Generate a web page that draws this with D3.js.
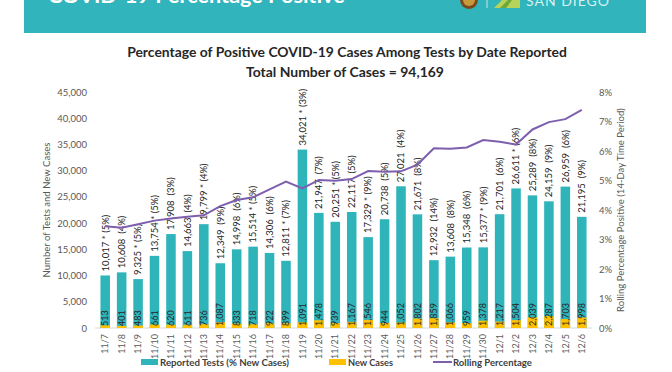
<!DOCTYPE html>
<html>
<head>
<meta charset="utf-8">
<script src="https://cdn.jsdelivr.net/npm/d3@7.9.0/dist/d3.min.js"></script>
<style>
  body { margin: 0; background: #fff; }
  svg { font-family: Lato, "Open Sans", sans-serif; display: block; }
  .pre { white-space: pre; }
</style>
</head>
<body>
<svg id="chart" width="672" height="372"></svg>
<script>
// Reported dates, 11/7 -> 12/6
const dates = ['11/7','11/8','11/9','11/10','11/11','11/12','11/13','11/14','11/15','11/16',
  '11/17','11/18','11/19','11/20','11/21','11/22','11/23','11/24','11/25','11/26',
  '11/27','11/28','11/29','11/30','12/1','12/2','12/3','12/4','12/5','12/6'];

// reported tests per day
const tests = [10017, 10608, 9325, 13754, 17908, 14663, 19799, 12349, 14998, 15514,
  14306, 12811, 34021, 21947, 20251, 22117, 17329, 20738, 27021, 21671,
  12932, 13608, 15348, 15377, 21701, 26611, 25289, 24159, 26959, 21195];

// which test counts carry the "*" mark
const starred = [1, 0, 1, 1, 0, 0, 1, 0, 0, 1,
  0, 1, 1, 0, 1, 0, 1, 0, 0, 0,
  0, 0, 0, 1, 0, 1, 0, 0, 0, 0];

// % new cases shown in brackets
const pctNew = [5, 4, 5, 5, 3, 4, 4, 9, 6, 5,
  6, 7, 3, 7, 5, 5, 9, 5, 4, 8,
  14, 8, 6, 9, 6, 6, 8, 9, 6, 9];

// new cases per day
const newCases = [513, 401, 483, 661, 620, 611, 736, 1087, 833, 718,
  922, 899, 1091, 1478, 939, 1167, 1546, 944, 1052, 1802,
  1859, 1066, 959, 1378, 1217, 1504, 2039, 2287, 1703, 1998];

// rolling 14-day percentage positive
const rolling = [3.45, 3.40, 3.52, 3.64, 3.71, 3.77, 3.82, 4.13, 4.34, 4.43,
  4.70, 4.96, 4.73, 5.02, 4.99, 5.05, 5.32, 5.30, 5.31, 5.54,
  6.09, 6.08, 6.12, 6.37, 6.31, 6.22, 6.73, 6.98, 7.08, 7.39];

const leftTicks = [0, 5000, 10000, 15000, 20000, 25000, 30000, 35000, 40000, 45000];
const rightTicks = [0, 1, 2, 3, 4, 5, 6, 7, 8];

const teal = '#2fb4ba';
const gold = '#ffc000';
const purple = '#7d5fae';

const svg = d3.select('#chart');

// shrink/grow a text so it spans a target width
function fit(sel, w) {
  const node = sel.node();
  const fs = parseFloat(sel.attr('font-size'));
  const len = node.getComputedTextLength();
  if (len > 0) sel.attr('font-size', (fs * w / len).toFixed(2));
  return sel;
}

// ---- header banner (top of it is cropped in the source image)
svg.append('rect').attr('x', 24).attr('y', 0).attr('width', 622).attr('height', 33).attr('fill', '#31b4bb');
fit(svg.append('text').attr('x', 48).attr('y', 3)
  .attr('font-size', 24).attr('font-weight', 700).attr('fill', '#fff')
  .text('COVID-19 Percentage Positive'), 297);
// seal
svg.append('circle').attr('cx', 469).attr('cy', 0).attr('r', 9).attr('fill', '#7a4a1c');
svg.append('circle').attr('cx', 469).attr('cy', 0).attr('r', 6).attr('fill', '#c99a3c');
svg.append('line').attr('x1', 487).attr('x2', 487).attr('y1', 0).attr('y2', 8).attr('stroke', '#bfe6e8');
// county logo
svg.append('path').attr('d', 'M494,8 L502,0 L520,0 L520,8 Z').attr('fill', '#b6d35a');
svg.append('path').attr('d', 'M500,8 L508,0 L512,0 L506,8 Z').attr('fill', '#6fa83a');
fit(svg.append('text').attr('x', 526).attr('y', 6)
  .attr('font-size', 16).attr('fill', '#d8f1f2').attr('letter-spacing', 1)
  .text('SAN DIEGO'), 83);

// ---- titles
fit(svg.append('text').attr('x', 347).attr('y', 57).attr('text-anchor', 'middle')
  .attr('font-size', 14).attr('font-weight', 700).attr('fill', '#262626')
  .text('Percentage of Positive COVID-19 Cases Among Tests by Date Reported'), 440);
fit(svg.append('text').attr('x', 345).attr('y', 77).attr('text-anchor', 'middle')
  .attr('font-size', 14).attr('font-weight', 700).attr('fill', '#262626')
  .text('Total Number of Cases = 94,169'), 198);

// ---- scales
const x = d3.scaleBand().domain(dates).range([97, 590]).paddingInner(0.42).paddingOuter(0.21);
const y = d3.scaleLinear().domain([0, 45000]).range([328, 92]);
const y2 = d3.scaleLinear().domain([0, 8]).range([328, 92]);
const cx = d => x(d) + x.bandwidth() / 2;

// ---- axes
const gy = svg.append('g').attr('transform', 'translate(92,0)')
  .call(d3.axisLeft(y).tickValues(leftTicks).tickFormat(d3.format(',')).tickSize(0).tickPadding(5));
gy.select('.domain').remove();
gy.selectAll('text').attr('font-size', 9.5).attr('fill', '#595959').attr('font-family', 'Lato');

const gy2 = svg.append('g').attr('transform', 'translate(594,0)')
  .call(d3.axisRight(y2).tickValues(rightTicks).tickFormat(d => d + '%').tickSize(0).tickPadding(5));
gy2.select('.domain').remove();
gy2.selectAll('text').attr('font-size', 9.5).attr('fill', '#595959').attr('font-family', 'Lato');

const gx = svg.append('g').attr('transform', 'translate(0,328)')
  .call(d3.axisBottom(x).tickSize(0));
gx.select('.domain').attr('stroke', '#d9d9d9').attr('d', 'M95,0H592');
gx.selectAll('text')
  .attr('font-size', 9).attr('fill', '#595959').attr('font-family', 'Lato')
  .attr('transform', 'rotate(-90)').attr('text-anchor', 'end')
  .attr('x', -6).attr('y', 0).attr('dy', '0.35em');

// axis titles
fit(svg.append('text').attr('transform', 'translate(50,210) rotate(-90)').attr('text-anchor', 'middle')
  .attr('font-size', 10).attr('fill', '#595959')
  .text('Number of Tests and New Cases'), 135);
fit(svg.append('text').attr('transform', 'translate(624,210) rotate(-90)').attr('text-anchor', 'middle')
  .attr('font-size', 10).attr('fill', '#595959')
  .text('Rolling Percentage Positive (14-Day Time Period)'), 204);

// ---- bars
const rows = dates.map((d, i) => ({ date: d, tests: tests[i], star: starred[i], pct: pctNew[i], cases: newCases[i] }));

svg.append('g').selectAll('rect').data(rows).join('rect')
  .attr('x', d => x(d.date)).attr('width', x.bandwidth())
  .attr('y', d => y(d.tests)).attr('height', d => y(0) - y(d.tests))
  .attr('fill', teal);

svg.append('g').selectAll('rect').data(rows).join('rect')
  .attr('x', d => x(d.date)).attr('width', x.bandwidth())
  .attr('y', d => y(d.cases)).attr('height', d => y(0) - y(d.cases))
  .attr('fill', gold);

// test labels above bars
svg.append('g').selectAll('text').data(rows).join('text')
  .attr('class', 'pre')
  .attr('transform', d => `translate(${cx(d.date)},${y(d.tests) - 4}) rotate(-90)`)
  .attr('dy', '0.35em').attr('font-size', 9.5).attr('fill', '#262626')
  .text(d => d3.format(',')(d.tests) + (d.star ? ' * ' : '  ') + '(' + d.pct + '%)');

// new case labels inside bars
svg.append('g').selectAll('text').data(rows).join('text')
  .attr('transform', d => `translate(${cx(d.date)},326) rotate(-90)`)
  .attr('dy', '0.35em').attr('font-size', 9).attr('fill', '#262626')
  .text(d => d3.format(',')(d.cases));

// ---- rolling line
svg.append('path')
  .datum(rolling)
  .attr('fill', 'none').attr('stroke', purple).attr('stroke-width', 2)
  .attr('d', d3.line().x((d, i) => cx(dates[i])).y(d => y2(d)));

// ---- legend
const lg = svg.append('g').attr('font-weight', 700).attr('fill', '#404040');
lg.append('rect').attr('x', 141).attr('y', 359).attr('width', 17).attr('height', 6).attr('fill', teal);
fit(lg.append('text').attr('x', 160).attr('y', 366).attr('font-size', 10.5).text('Reported Tests (% New Cases)'), 129);
lg.append('rect').attr('x', 329).attr('y', 359).attr('width', 17).attr('height', 6).attr('fill', gold);
fit(lg.append('text').attr('x', 348).attr('y', 366).attr('font-size', 10.5).text('New Cases'), 45);
lg.append('line').attr('x1', 433).attr('x2', 452).attr('y1', 362).attr('y2', 362).attr('stroke', purple).attr('stroke-width', 2);
fit(lg.append('text').attr('x', 453).attr('y', 366).attr('font-size', 10.5).text('Rolling Percentage'), 79);
</script>
</body>
</html>
